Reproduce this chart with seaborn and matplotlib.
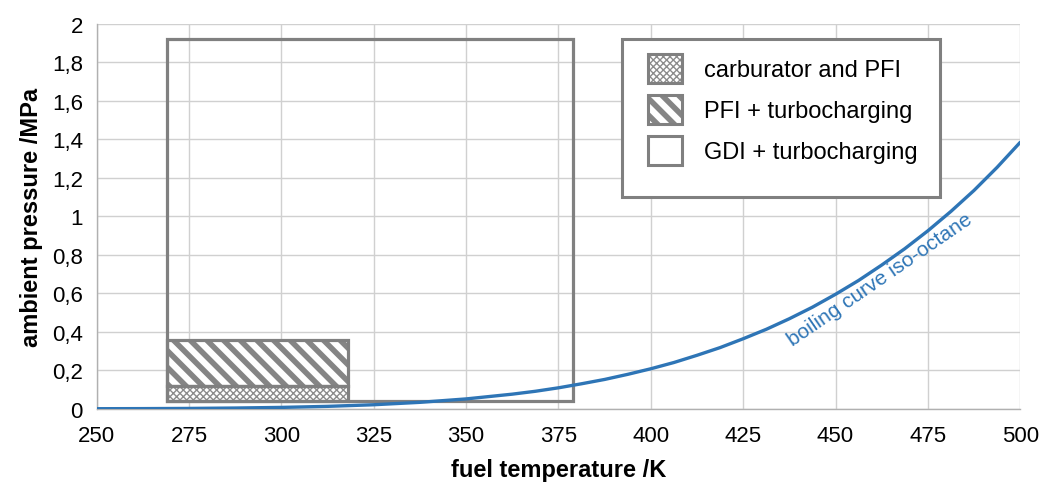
import matplotlib
matplotlib.use("Agg")
import matplotlib.pyplot as plt
import seaborn as sns
import pandas as pd
from matplotlib.patches import Rectangle, Patch
from matplotlib.ticker import FuncFormatter, MultipleLocator

# ---- data ----
temperature_K = [250, 262.5, 275, 287.5, 300, 312.5, 325, 337.5, 350, 362.5, 368.75, 375,
                 381.25, 387.5, 393.75, 400, 406.25, 412.5, 418.75, 425, 431.25, 437.5,
                 443.75, 450, 456.25, 462.5, 468.75, 475, 481.25, 487.5, 493.75, 500]
pressure_MPa = [0.0004, 0.0009, 0.0019, 0.0039, 0.0072, 0.0126, 0.021, 0.0335, 0.0513, 0.076,
                0.091, 0.109, 0.13, 0.1525, 0.179, 0.208, 0.2405, 0.278, 0.318, 0.364, 0.413,
                0.468, 0.528, 0.595, 0.667, 0.747, 0.832, 0.925, 1.026, 1.135, 1.255, 1.385]

region_names = ["GDI + turbocharging", "PFI + turbocharging", "carburator and PFI"]
region_T_min = [269, 269, 269]
region_T_max = [379, 318, 318]
region_p_min = [0.04, 0.12, 0.04]
region_p_max = [1.92, 0.36, 0.12]
region_hatch = ["", "\\\\", "xxxxx"]

legend_order = ["carburator and PFI", "PFI + turbocharging", "GDI + turbocharging"]
curve_label = "boiling curve iso-octane"

x_ticks = [250, 275, 300, 325, 350, 375, 400, 425, 450, 475, 500]

# ---- style ----
sns.set_style("white")
plt.rcParams['font.family'] = ['Liberation Sans', 'DejaVu Sans']
plt.rcParams['text.color'] = 'black'
plt.rcParams['axes.labelcolor'] = 'black'

GRAY = "#808080"
HATCH_GRAY = {"": GRAY, "\\\\": "#858585", "xxxxx": "#8c8c8c"}
HATCH_LW = {"": 1.0, "\\\\": 4.0, "xxxxx": 1.0}
BLUE = "#2e75b6"

fig, ax = plt.subplots(figsize=(10.4, 4.89), dpi=100)
fig.subplots_adjust(left=0.093, right=0.981, bottom=0.162, top=0.949)

df = pd.DataFrame({"T": temperature_K, "p": pressure_MPa})
sns.lineplot(data=df, x="T", y="p", ax=ax, color=BLUE, linewidth=2.4, zorder=4)
for ln in ax.lines:
    ln.set_solid_joinstyle("round")


def hatched(xy, w, h, hatch, frame_lw, zorder=3):
    items = []
    if hatch:
        r = Rectangle(xy, w, h, facecolor="white", edgecolor=HATCH_GRAY[hatch], linewidth=0,
                      hatch=hatch, zorder=zorder)
        if hasattr(r, "set_hatch_linewidth"):
            r.set_hatch_linewidth(HATCH_LW[hatch])
        items.append(r)
    f = Rectangle(xy, w, h, facecolor="none", edgecolor=GRAY, linewidth=frame_lw, zorder=zorder + 0.1)
    items.append(f)
    return items


for name, t0, t1, p0, p1, h in zip(region_names, region_T_min, region_T_max,
                                    region_p_min, region_p_max, region_hatch):
    for r in hatched((t0, p0), t1 - t0, p1 - p0, h, 2.3):
        ax.add_patch(r)

ax.set_xlim(250, 500)
ax.set_ylim(0, 2)
ax.set_xticks(x_ticks)
ax.yaxis.set_major_locator(MultipleLocator(0.2))


def fmt(v, pos):
    s = f"{v:.1f}".rstrip("0").rstrip(".")
    return s.replace(".", ",")


ax.yaxis.set_major_formatter(FuncFormatter(fmt))
ax.grid(True, color="#d0d0d0", linewidth=1.0, zorder=0)
ax.set_axisbelow(True)
for s in ["top", "right"]:
    ax.spines[s].set_visible(False)
for s in ["left", "bottom"]:
    ax.spines[s].set_color("#b0b0b0")
    ax.spines[s].set_linewidth(1.0)
ax.tick_params(axis="both", direction="out", length=6, color="#b0b0b0", labelsize=16,
               labelcolor="black", pad=4)
ax.tick_params(axis="x", pad=6)
ax.set_xlabel("fuel temperature /K", fontsize=17, fontweight="bold", labelpad=8, color="black")
ax.set_ylabel("ambient pressure /MPa", fontsize=17, fontweight="bold", labelpad=6, color="black")

# legend (frame drawn separately)
handles = []
for name in legend_order:
    i = region_names.index(name)
    h = region_hatch[i]
    p = Patch(facecolor="white", edgecolor=HATCH_GRAY[h] if h else GRAY, linewidth=0 if h else 2.2,
              hatch=h if h else None, label=name)
    handles.append(p)
leg = ax.legend(handles=handles, loc="upper left", bbox_to_anchor=(0.597, 0.922),
                fontsize=17, frameon=False, handlelength=1.45, handleheight=1.5,
                borderpad=0, labelspacing=0.52, handletextpad=0.9, borderaxespad=0,
                labelcolor="black")
leg.set_zorder(7)
for hp in leg.legend_handles:
    hh = hp.get_hatch()
    if hh and hasattr(hp, "set_hatch_linewidth"):
        hp.set_hatch_linewidth(HATCH_LW[hh])
# outline the hatched legend handles
fig.canvas.draw()
inv = ax.transAxes.inverted()
for hp in leg.legend_handles:
    if hp.get_hatch():
        bb = hp.get_window_extent()
        (x0, y0), (x1, y1) = inv.transform([[bb.x0, bb.y0], [bb.x1, bb.y1]])
        ax.add_patch(Rectangle((x0, y0), x1 - x0, y1 - y0, transform=ax.transAxes,
                               facecolor="none", edgecolor=GRAY, linewidth=2.2, zorder=8,
                               clip_on=False))

frame = Rectangle((0.5688, 0.5506), 0.9133 - 0.5688, 0.961 - 0.5506, transform=ax.transAxes,
                  facecolor="white", edgecolor=GRAY, linewidth=2.2, zorder=6, clip_on=False)
ax.add_patch(frame)

ax.text(462, 0.675, curve_label, color=BLUE, fontsize=15, rotation=34.5,
        ha="center", va="center", rotation_mode="anchor", zorder=5)

fig.savefig("out.png", dpi=100)
